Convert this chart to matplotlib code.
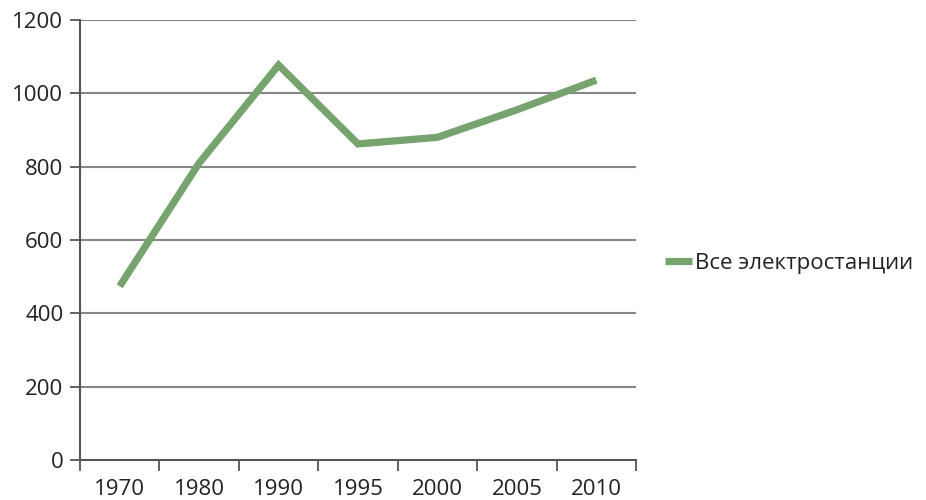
import matplotlib.pyplot as plt
import numpy as np

years = ['1970', '1980', '1990', '1995', '2000', '2005', '2010']
values = [474, 810, 1077, 862, 880, 955, 1036]
series_name = 'Все электростанции'
y_ticks = [0, 200, 400, 600, 800, 1000, 1200]

line_color = '#76A36E'
grid_color = '#868686'

plt.rcParams['font.family'] = ['Open Sans', 'DejaVu Sans']

fig = plt.figure(figsize=(9.26, 5.0), dpi=100)
ax = fig.add_axes([0.0864, 0.08, 0.6004, 0.88])

x = np.arange(len(years))
line, = ax.plot(x, values, color=line_color, linewidth=5.2, solid_joinstyle='miter',
                solid_capstyle='butt', label=series_name, zorder=3)

ax.set_xlim(-0.5, len(years) - 0.5)
ax.set_ylim(0, 1200)
ax.set_yticks(y_ticks)
ax.set_yticklabels([str(v) for v in y_ticks])

# category labels centred, tick marks on the category borders
ax.set_xticks(x)
ax.set_xticklabels(years)
ax.set_xticks(np.arange(-0.5, len(years)), minor=True)
ax.tick_params(axis='x', which='major', length=0, pad=14, labelsize=16, colors='#222222')
ax.tick_params(axis='x', which='minor', length=8, width=1.3, color='#555555', direction='out')
ax.tick_params(axis='y', length=7, width=1.3, color='#555555', pad=5, labelsize=16,
               labelcolor='#222222')

for v in y_ticks[1:]:
    ax.axhline(v, color=grid_color, linewidth=1.5, zorder=1)

for side in ['top', 'right']:
    ax.spines[side].set_visible(False)
for side in ['left', 'bottom']:
    ax.spines[side].set_color('#555555')
    ax.spines[side].set_linewidth(1.5)

fig.legend(handles=[line], labels=[series_name], loc='center left',
           bbox_to_anchor=(0.697, 0.474), frameon=False, fontsize=16,
           handlelength=1.2, handletextpad=0.15, labelcolor='#222222')

fig.savefig('out.png', dpi=100)
